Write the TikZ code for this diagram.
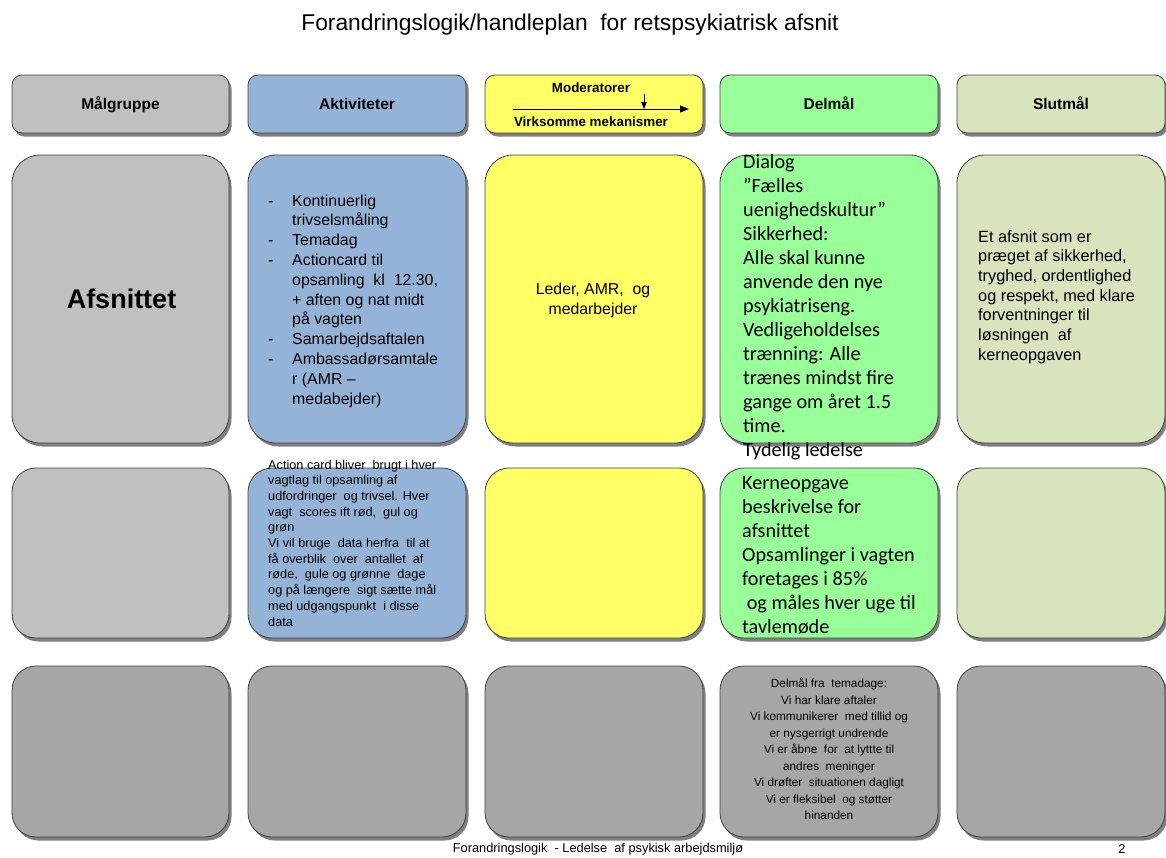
\documentclass[tikz,border=0pt]{standalone}
\usepackage{fontspec}
\setmainfont{Liberation Sans}
\newfontfamily\calibri{Carlito}
\usetikzlibrary{shadows,arrows.meta}

\definecolor{cellgray}{RGB}{192,192,192}
\definecolor{darkcell}{RGB}{166,166,166}
\definecolor{cellblue}{RGB}{149,179,215}
\definecolor{cellyellow}{RGB}{255,255,102}
\definecolor{cellgreen}{RGB}{153,255,153}
\definecolor{cellolive}{RGB}{215,228,189}
\definecolor{cellline}{RGB}{64,64,64}

\tikzset{
  cell/.style={rectangle, draw=cellline, line width=0.8pt, inner sep=0pt,
    drop shadow={shadow xshift=2.5pt, shadow yshift=-3.5pt, fill=black, opacity=0.5}},
  headcell/.style={cell, rounded corners=10pt, minimum height=58pt},
  bigcell/.style={cell, rounded corners=28pt, minimum height=288pt},
  midcell/.style={cell, rounded corners=24pt, minimum height=170pt},
  lowcell/.style={cell, rounded corners=24pt, minimum height=171pt, fill=darkcell},
  headtxt/.style={inner sep=0pt, anchor=base, font=\bfseries\fontsize{15.5}{18}\selectfont},
  modtxt/.style={inner sep=0pt, anchor=base, font=\bfseries\fontsize{13.4}{15}\selectfont},
  txt/.style={inner sep=0pt, align=left, anchor=west},
  ctxt/.style={inner sep=0pt, align=center},
  marrow/.style={line width=0.9pt, -{Triangle[length=9pt,width=7pt]}},
  darrow/.style={line width=0.9pt, -{Triangle[length=7pt,width=5.5pt]}},
}

\begin{document}
\begin{tikzpicture}[x=1pt,y=-1pt]
\useasboundingbox (0,0) rectangle (1166,857);

% title
\node[ctxt, font=\fontsize{22.8}{26}\selectfont] (title) at (570,25)
  {Forandringslogik/handleplan\ \ for retspsykiatrisk afsnit};

% header row
\node[headcell, fill=cellgray,   minimum width=217pt] (h1) at (120.5,104) {};
\node[headcell, fill=cellblue,   minimum width=218pt] (h2) at (357,104) {};
\node[headcell, fill=cellyellow, minimum width=218pt] (h3) at (594,104) {};
\node[headcell, fill=cellgreen,  minimum width=218pt] (h4) at (829,104) {};
\node[headcell, fill=cellolive,  minimum width=208pt] (h5) at (1061,104) {};

\node[headtxt] (h1txt) at (120.5,109.5) {Målgruppe};
\node[headtxt] (h2txt) at (357,109.5) {Aktiviteter};
\node[headtxt] (h4txt) at (829,109.5) {Delmål};
\node[headtxt] (h5txt) at (1061,109.5) {Slutmål};

% moderator header
\node[modtxt] (modtxt) at (591,92.5) {Moderatorer};
\node[modtxt] (mektxt) at (591,126.5) {Virksomme mekanismer};
\coordinate (mstart) at (513,109);
\coordinate (mend) at (689,109);
\coordinate (dstart) at (644,94);
\coordinate (dend) at (644,109);
\draw[marrow] (mstart) -- (mend);
\draw[darrow] (dstart) -- (dend);

% first row
\node[bigcell, fill=cellgray,   minimum width=217pt] (r1c1) at (120.5,299) {};
\node[bigcell, fill=cellblue,   minimum width=218pt] (r1c2) at (357,299) {};
\node[bigcell, fill=cellyellow, minimum width=218pt] (r1c3) at (594,299) {};
\node[bigcell, fill=cellgreen,  minimum width=218pt] (r1c4) at (829,299) {};
\node[bigcell, fill=cellolive,  minimum width=208pt] (r1c5) at (1061,299) {};

% second row
\node[midcell, fill=cellgray,   minimum width=217pt] (r2c1) at (120.5,553) {};
\node[midcell, fill=cellblue,   minimum width=218pt] (r2c2) at (357,553) {};
\node[midcell, fill=cellyellow, minimum width=218pt] (r2c3) at (594,553) {};
\node[midcell, fill=cellgreen,  minimum width=218pt] (r2c4) at (829,553) {};
\node[midcell, fill=cellolive,  minimum width=208pt] (r2c5) at (1061,553) {};

% third row
\node[lowcell, minimum width=217pt] (r3c1) at (120.5,751.5) {};
\node[lowcell, minimum width=218pt] (r3c2) at (357,751.5) {};
\node[lowcell, minimum width=218pt] (r3c3) at (594,751.5) {};
\node[lowcell, minimum width=218pt] (r3c4) at (829,751.5) {};
\node[lowcell, minimum width=208pt] (r3c5) at (1061,751.5) {};

% texts of the first row
\node[ctxt, font=\bfseries\fontsize{27}{31}\selectfont] (afsn) at (121.5,299) {Afsnittet};

\node[txt, font=\fontsize{15.9}{19.8}\selectfont] (akt1) at (268,301) {%
\makebox[24pt][l]{-}Kontinuerlig\\
\hspace*{24pt}trivselsmåling\\
\makebox[24pt][l]{-}Temadag\\
\makebox[24pt][l]{-}Actioncard til\\
\hspace*{24pt}opsamling\ \ kl\ \ 12.30,\\
\hspace*{24pt}+ aften og nat midt\\
\hspace*{24pt}på vagten\\
\makebox[24pt][l]{-}Samarbejdsaftalen\\
\makebox[24pt][l]{-}Ambassadørsamtale\\
\hspace*{24pt}r (AMR –\\
\hspace*{24pt}medabejder)};

\node[ctxt, font=\fontsize{15.8}{20}\selectfont] (mod1) at (593,300)
  {Leder, AMR,\ \ og\\medarbejder};

\node[txt, font=\calibri\fontsize{20.2}{24}\selectfont] (del1) at (743,307) {%
Dialog\\
”Fælles\\
uenighedskultur”\\
Sikkerhed:\\
Alle skal kunne\\
anvende den nye\\
psykiatriseng.\\
Vedligeholdelses\\
trænning: Alle\\
trænes mindst fire\\
gange om året 1.5\\
time.\\
Tydelig ledelse};

\node[txt, font=\fontsize{16.3}{19.7}\selectfont] (slut1) at (978,297) {%
Et afsnit som er\\
præget af sikkerhed,\\
tryghed, ordentlighed\\
og respekt, med klare\\
forventninger til\\
løsningen\ \ af\\
kerneopgaven};

% texts of the second row
\node[txt, font=\fontsize{12.7}{15.7}\selectfont] (akt2) at (268,543) {%
Action card bliver\ \ brugt i hver\\
vagtlag til opsamling af\\
udfordringer\ \ og trivsel. Hver\\
vagt\ \ scores ift rød,\ \ gul og\\
grøn\\
Vi vil bruge\ \ data herfra\ \ til at\\
få overblik\ \ over\ \ antallet\ \ af\\
røde,\ \ gule og grønne\ \ dage\\
og på længere\ \ sigt sætte mål\\
med udgangspunkt\ \ i disse\\
data};

\node[txt, font=\calibri\fontsize{20.2}{24}\selectfont] (del2) at (742,555.5) {%
Kerneopgave\\
beskrivelse for\\
afsnittet\\
Opsamlinger i vagten\\
foretages i 85\%\\
\ og måles hver uge til\\
tavlemøde};

% text of the third row
\node[ctxt, font=\fontsize{11.8}{16.5}\selectfont] (del3) at (829,749) {%
Delmål fra\ \ temadage:\\
Vi har klare aftaler\\
Vi kommunikerer\ \ med tillid og\\
er nysgerrigt undrende\\
Vi er åbne\ \ for\ \ at lyttte til\\
andres\ \ meninger\\
Vi drøfter\ \ situationen dagligt\\
Vi er fleksibel\ \ og støtter\\
hinanden};

% footer
\node[ctxt, font=\fontsize{12.8}{15}\selectfont] (foot) at (598,849)
  {Forandringslogik\ \ - Ledelse\ \ af psykisk arbejdsmiljø};
\node[ctxt, font=\fontsize{12.8}{15}\selectfont] (pagenum) at (1122,849) {2};
\end{tikzpicture}
\end{document}
